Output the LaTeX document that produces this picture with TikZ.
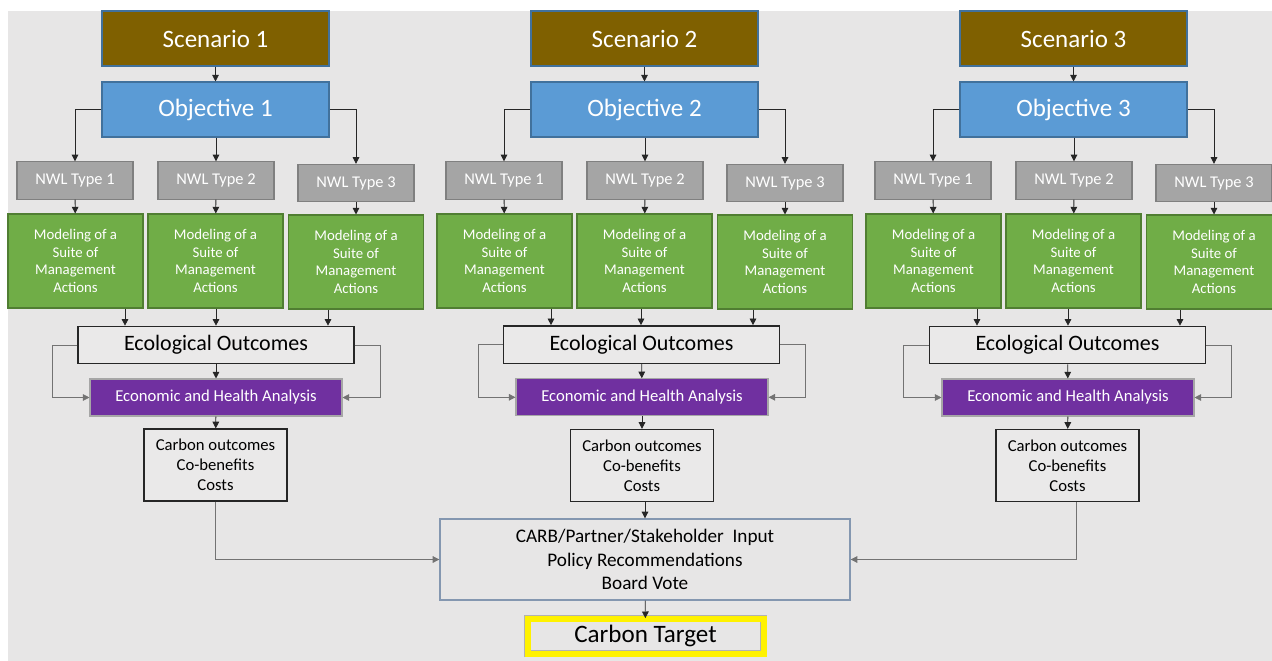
\documentclass[tikz,border=0pt]{standalone}
\usepackage{fontspec}
\setmainfont{Carlito}
\usetikzlibrary{arrows.meta}

\definecolor{bgcol}{HTML}{E7E6E6}
\definecolor{scencol}{HTML}{7F6000}
\definecolor{objcol}{HTML}{5B9BD5}
\definecolor{bordblue}{HTML}{41719C}
\definecolor{nwlcol}{HTML}{A5A5A5}
\definecolor{suitecol}{HTML}{70AD47}
\definecolor{suitebord}{HTML}{507E32}
\definecolor{econcol}{HTML}{7030A0}
\definecolor{inputbord}{HTML}{8497B0}

\begin{document}
\begin{tikzpicture}[x=0.75pt, y=-0.75pt, >={Triangle[length=5pt,width=5pt]},
    base node/.style={rectangle,draw,inner sep=0pt,align=center,line width=0.8pt},
    scen node/.style={base node,fill=scencol,draw=bordblue,text=white,
      minimum width=170.25pt,minimum height=41.25pt,font=\fontsize{18.75}{22}\selectfont},
    obj node/.style={scen node,fill=objcol},
    nwl node/.style={base node,fill=nwlcol,draw=black!50,text=white,
      minimum width=87pt,minimum height=28pt,font=\fontsize{12.3}{14}\selectfont},
    suite node/.style={base node,fill=suitecol,draw=suitebord,text=white,
      minimum width=101.25pt,minimum height=70.5pt,font=\fontsize{11.1}{13.35}\selectfont},
    eco node/.style={base node,fill=bgcol!88!white,draw=black!85,line width=1pt,
      minimum width=207pt,minimum height=28pt,font=\fontsize{16.5}{19}\selectfont},
    econ node/.style={base node,fill=econcol,draw=black!35,text=white,
      minimum width=189pt,minimum height=27.75pt,font=\fontsize{12.5}{15}\selectfont},
    out node/.style={base node,fill=bgcol!88!white,draw=black!85,line width=1pt,
      minimum width=107.25pt,minimum height=54pt,font=\fontsize{12.5}{15}\selectfont},
    input node/.style={base node,fill=bgcol,draw=inputbord,line width=1pt,
      minimum width=307.5pt,minimum height=60.75pt,font=\fontsize{14.4}{17.5}\selectfont},
    target node/.style={base node,fill=bgcol,draw=black!30,line width=0.5pt,
      double=yellow,double distance=4.5pt,
      minimum width=177pt,minimum height=26.25pt,font=\fontsize{18.8}{22}\selectfont},
    link/.style={->,draw=black!85,line width=0.6pt},
    side link/.style={link,draw=black!55}]

\useasboundingbox (0,0) rectangle (1272,661);
\fill[bgcol] (8,11) rectangle (1272,661);

% scenario 1
\node[scen node] (sc1) at (215.5,38.5) {Scenario 1};
\node[obj node] (ob1) at (215.5,109.5) {Objective 1};
\node[nwl node] (nw11) at (75,180.5) {NWL Type 1};
\node[nwl node] (nw12) at (216,180.5) {NWL Type 2};
\node[nwl node] (nw13) at (356,183) {NWL Type 3};
\node[suite node] (md11) at (75.5,261) {Modeling of a\\Suite of\\Management\\Actions};
\node[suite node] (md12) at (215.5,261) {Modeling of a\\Suite of\\Management\\Actions};
\node[suite node] (md13) at (356,262) {Modeling of a\\Suite of\\Management\\Actions};
\node[eco node] (eco1) at (216,345) {Ecological Outcomes};
\node[econ node] (ec1) at (216,397.5) {Economic and Health Analysis};
\node[out node] (cb1) at (215.5,465) {Carbon outcomes\\Co-benefits\\Costs};

% scenario 2
\node[scen node] (sc2) at (644.5,38.5) {Scenario 2};
\node[obj node] (ob2) at (644.5,109.5) {Objective 2};
\node[nwl node] (nw21) at (504,180.5) {NWL Type 1};
\node[nwl node] (nw22) at (645,180.5) {NWL Type 2};
\node[nwl node] (nw23) at (785,183) {NWL Type 3};
\node[suite node] (md21) at (504.5,261) {Modeling of a\\Suite of\\Management\\Actions};
\node[suite node] (md22) at (644.5,261) {Modeling of a\\Suite of\\Management\\Actions};
\node[suite node] (md23) at (785,262) {Modeling of a\\Suite of\\Management\\Actions};
\node[eco node] (eco2) at (641.5,344.5) {Ecological Outcomes};
\node[econ node] (ec2) at (642,397.3) {Economic and Health Analysis};
\node[out node] (cb2) at (642,465.5) {Carbon outcomes\\Co-benefits\\Costs};

% scenario 3
\node[scen node] (sc3) at (1073.5,38.5) {Scenario 3};
\node[obj node] (ob3) at (1073.5,109.5) {Objective 3};
\node[nwl node] (nw31) at (933,180.5) {NWL Type 1};
\node[nwl node] (nw32) at (1074,180.5) {NWL Type 2};
\node[nwl node] (nw33) at (1214,183) {NWL Type 3};
\node[suite node] (md31) at (933.5,261) {Modeling of a\\Suite of\\Management\\Actions};
\node[suite node] (md32) at (1073.5,261) {Modeling of a\\Suite of\\Management\\Actions};
\node[suite node] (md33) at (1214,262) {Modeling of a\\Suite of\\Management\\Actions};
\node[eco node] (eco3) at (1067.5,345) {Ecological Outcomes};
\node[econ node] (ec3) at (1068,397.5) {Economic and Health Analysis};
\node[out node] (cb3) at (1067.5,465.5) {Carbon outcomes\\Co-benefits\\Costs};

% common
\node[input node] (inp) at (645,559.5) {CARB/Partner/Stakeholder~ Input\\Policy Recommendations\\Board Vote};
\node[target node] (tgt) at (645.5,636) {Carbon Target};

\draw[link] (sc1) -- (ob1);
\draw[link] (ob1.west) -| (nw11.north);
\draw[link] (ob1.south -| nw12.north) -- (nw12.north);
\draw[link] (ob1.east) -| (nw13.north);
\draw[link] (nw11) -- (md11);
\draw[link] (nw12) -- (md12);
\draw[link] (nw13) -- (md13);
\draw[link] (md11.south -| 125,0) -- (eco1.north -| 125,0);
\draw[link] (md12.south -| 216,0) -- (eco1.north -| 216,0);
\draw[link] (md13.south -| 328,0) -- (eco1.north -| 328,0);
\draw[side link] (eco1.west) -- ++(-25,0) |- (ec1.west);
\draw[side link] (eco1.east) -- ++(26,0) |- (ec1.east);
\draw[link] (eco1) -- (ec1);
\draw[link] (ec1) -- (cb1);
\draw[side link] (cb1.south) |- (inp.west);

\draw[link] (sc2) -- (ob2);
\draw[link] (ob2.west) -| (nw21.north);
\draw[link] (ob2.south -| nw22.north) -- (nw22.north);
\draw[link] (ob2.east) -| (nw23.north);
\draw[link] (nw21) -- (md21);
\draw[link] (nw22) -- (md22);
\draw[link] (nw23) -- (md23);
\draw[link] (md21.south -| 551,0) -- (eco2.north -| 551,0);
\draw[link] (md22.south -| 641,0) -- (eco2.north -| 641,0);
\draw[link] (md23.south -| 753,0) -- (eco2.north -| 753,0);
\draw[side link] (eco2.west) -- ++(-24,0) |- (ec2.west);
\draw[side link] (eco2.east) -- ++(25,0) |- (ec2.east);
\draw[link] (eco2) -- (ec2);
\draw[link] (ec2) -- (cb2);
\draw[link] (cb2.south -| inp.north) -- (inp.north);

\draw[link] (sc3) -- (ob3);
\draw[link] (ob3.west) -| (nw31.north);
\draw[link] (ob3.south -| nw32.north) -- (nw32.north);
\draw[link] (ob3.east) -| (nw33.north);
\draw[link] (nw31) -- (md31);
\draw[link] (nw32) -- (md32);
\draw[link] (nw33) -- (md33);
\draw[link] (md31.south -| 977,0) -- (eco3.north -| 977,0);
\draw[link] (md32.south -| 1068,0) -- (eco3.north -| 1068,0);
\draw[link] (md33.south -| 1180,0) -- (eco3.north -| 1180,0);
\draw[side link] (eco3.west) -- ++(-25,0) |- (ec3.west);
\draw[side link] (eco3.east) -- ++(25,0) |- (ec3.east);
\draw[link] (eco3) -- (ec3);
\draw[link] (ec3) -- (cb3);
\draw[side link] (cb3.south -| 1076,0) |- (inp.east);

\draw[link] (inp) -- (tgt);

\end{tikzpicture}
\end{document}
